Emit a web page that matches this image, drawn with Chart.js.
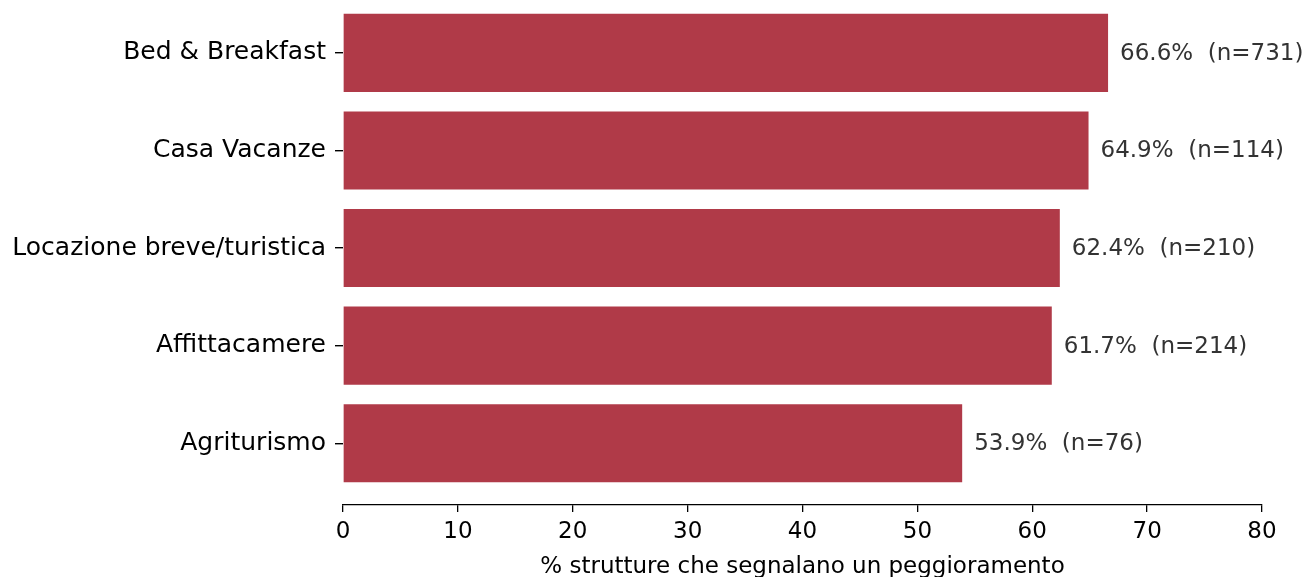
<!DOCTYPE html>
<html lang="it">
<head>
  <meta charset="UTF-8">
  <title>Peggioramento per tipologia</title>
  <script src="https://cdn.jsdelivr.net/npm/chart.js"></script>
  <style>
    html, body { margin: 0; padding: 0; background: #ffffff; }
    .chart-box { width: 1305px; height: 577px; position: relative; }
  </style>
</head>
<body>
<div class="chart-box">
  <canvas id="barChart"></canvas>
</div>

<script>
// data
const categories = ['Bed & Breakfast', 'Casa Vacanze', 'Locazione breve/turistica', 'Affittacamere', 'Agriturismo'];
const percentValues = [66.6, 64.9, 62.4, 61.7, 53.9];
const sampleSizes = [731, 114, 210, 214, 76];
const xTicks = [0, 10, 20, 30, 40, 50, 60, 70, 80];
const xTitle = '% strutture che segnalano un peggioramento';

const barColor = '#b03a48';
const fontFamily = '"DejaVu Sans", sans-serif';

// value labels at the end of each bar
const valueLabels = {
  id: 'valueLabels',
  afterDatasetsDraw(chart) {
    const ctx = chart.ctx;
    const meta = chart.getDatasetMeta(0);
    ctx.save();
    ctx.font = '23px ' + fontFamily;
    ctx.fillStyle = '#333333';
    ctx.textAlign = 'left';
    ctx.textBaseline = 'middle';
    meta.data.forEach((bar, i) => {
      const txt = percentValues[i].toFixed(1) + '%  (n=' + sampleSizes[i] + ')';
      ctx.fillText(txt, bar.x + 12, bar.y + 1);
    });
    ctx.restore();
  }
};

new Chart(document.getElementById('barChart'), {
  type: 'bar',
  data: {
    datasets: [{
      data: percentValues.map((v, i) => ({ x: v, y: i })),
      backgroundColor: barColor,
      borderWidth: 0,
      barPercentage: 0.8,
      categoryPercentage: 1.0,
      clip: false
    }]
  },
  options: {
    indexAxis: 'y',
    responsive: true,
    maintainAspectRatio: false,
    animation: false,
    layout: { padding: { top: 7, right: 43, bottom: 0, left: 0 } },
    plugins: {
      legend: { display: false },
      tooltip: { enabled: false }
    },
    scales: {
      x: {
        type: 'linear',
        min: 0,
        max: 80,
        afterBuildTicks: (scale) => { scale.ticks = xTicks.map(v => ({ value: v })); },
        afterFit: (scale) => { scale.height = 72; },
        border: { display: true, color: '#000000', width: 1.3 },
        grid: { drawOnChartArea: false, drawTicks: true, tickLength: 7, color: '#000000', lineWidth: 1.3 },
        ticks: { color: '#000000', padding: 6, font: { family: fontFamily, size: 23 } },
        title: {
          display: true,
          text: xTitle,
          color: '#000000',
          padding: { top: 0, bottom: -4 },
          font: { family: fontFamily, size: 23 }
        }
      },
      y: {
        type: 'linear',
        reverse: true,
        offset: false,
        min: -0.296,
        max: 4.633,
        afterBuildTicks: (scale) => { scale.ticks = categories.map((c, i) => ({ value: i })); },
        afterFit: (scale) => { scale.width = 343; },
        border: { display: false },
        grid: { offset: false, drawOnChartArea: false, drawTicks: true, tickLength: 8, color: '#000000', lineWidth: 1.4 },
        ticks: {
          color: '#000000',
          padding: 9,
          font: { family: fontFamily, size: 25 },
          callback: (v) => categories[v]
        }
      }
    }
  },
  plugins: [valueLabels]
});
</script>
</body>
</html>
